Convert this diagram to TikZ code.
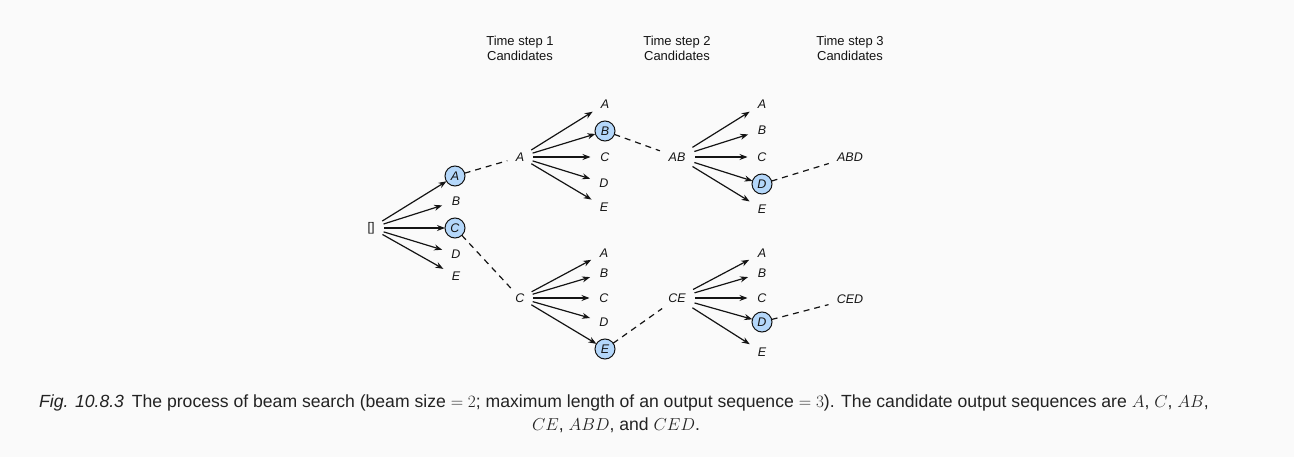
\documentclass[tikz,border=0pt]{standalone}
\usepackage[no-math]{fontspec}
\setmainfont{Liberation Sans}
\usetikzlibrary{arrows.meta}
\definecolor{bg}{RGB}{250,250,250}
\definecolor{sel}{RGB}{180,215,250}
\definecolor{ink}{RGB}{20,20,20}
\definecolor{captink}{RGB}{35,35,35}
\begin{document}
\begin{tikzpicture}[x=1pt,y=-1pt,
  every node/.style={font=\fontsize{12.5}{14}\selectfont\itshape, text=ink},
  tok/.style={circle, inner sep=0pt, minimum size=20pt, outer sep=4.5pt},
  pick/.style={circle, draw=ink, fill=sel, line width=1pt, inner sep=0pt, minimum size=20pt, outer sep=0pt},
  src/.style={circle, inner sep=0pt, minimum size=26pt},
  srcw/.style={circle, inner sep=0pt, minimum size=36pt},
  fin/.style={circle, inner sep=0pt, minimum size=44pt},
  arr/.style={-{Stealth[length=8pt,width=6pt]}, line width=1.2pt, draw=ink},
  dsh/.style={dash pattern=on 6pt off 5pt, line width=1.2pt, draw=ink},
  hdr/.style={font=\fontsize{13}{15.5}\selectfont, align=center},
  capt/.style={font=\fontsize{17.6}{23}\selectfont, text=captink, inner sep=0pt},
]
\path[fill=bg] (0,0) rectangle (1294,457);
\useasboundingbox (0,0) rectangle (1294,457);

% headers
\node[hdr] (h1) at (520,48.5) {Time step 1\\Candidates};
\node[hdr] (h2) at (677,48.5) {Time step 2\\Candidates};
\node[hdr] (h3) at (850,48.5) {Time step 3\\Candidates};

% root
\node[src] (r) at (371,228) {\upshape []};

% level 1
\node[pick] (a1) at (455,176) {A};
\node[tok]  (b1) at (456,201) {B};
\node[pick] (c1) at (455,228) {C};
\node[tok]  (d1) at (456,254) {D};
\node[tok]  (e1) at (456,276) {E};
\foreach \t in {a1,b1,c1,d1,e1} \draw[arr] (r) -- (\t);

% level 2 sources
\node[src] (pA) at (520,157) {A};
\node[src] (pC) at (520,298) {C};
\draw[dsh] (a1) -- (pA);
\draw[dsh] (c1) -- (pC);

% level 2 upper children
\node[tok]  (ua2) at (605,104) {A};
\node[pick] (ub2) at (605,131) {B};
\node[tok]  (uc2) at (605,157) {C};
\node[tok]  (ud2) at (604,183) {D};
\node[tok]  (ue2) at (604,207) {E};
\foreach \t in {ua2,ub2,uc2,ud2,ue2} \draw[arr] (pA) -- (\t);

% level 2 lower children
\node[tok]  (la2) at (604,253) {A};
\node[tok]  (lb2) at (604,273) {B};
\node[tok]  (lc2) at (604,298) {C};
\node[tok]  (ld2) at (604,322) {D};
\node[pick] (le2) at (605,349) {E};
\foreach \t in {la2,lb2,lc2,ld2,le2} \draw[arr] (pC) -- (\t);

% level 3 sources
\node[srcw] (pAB) at (677,157) {AB};
\node[srcw] (pCE) at (677,298) {CE};
\draw[dsh] (ub2) -- (pAB);
\draw[dsh] (le2) -- (pCE);

% level 3 upper children
\node[tok]  (ua3) at (762,104) {A};
\node[tok]  (ub3) at (762,130) {B};
\node[tok]  (uc3) at (762,157) {C};
\node[pick] (ud3) at (762,184) {D};
\node[tok]  (ue3) at (762,209) {E};
\foreach \t in {ua3,ub3,uc3,ud3,ue3} \draw[arr] (pAB) -- (\t);

% level 3 lower children
\node[tok]  (la3) at (762,253) {A};
\node[tok]  (lb3) at (762,273) {B};
\node[tok]  (lc3) at (762,298) {C};
\node[pick] (ld3) at (762,322) {D};
\node[tok]  (le3) at (762,352) {E};
\foreach \t in {la3,lb3,lc3,ld3,le3} \draw[arr] (pCE) -- (\t);

% finals
\node[fin] (pABD) at (850,157) {ABD};
\node[fin] (pCED) at (850,299) {CED};
\draw[dsh] (ud3) -- (pABD);
\draw[dsh] (ld3) -- (pCED);

% caption
\node[capt, anchor=base west] (cap1) at (39,407) {{\itshape Fig. 10.8.3}\hspace{3pt} The process of beam search (beam size $=2$; maximum length of an output sequence $=3$). The candidate output sequences are $A$, $C$, $AB$,};
\node[capt, anchor=base] (cap2) at (616,430) {$CE$, $ABD$, and $CED$.};
\end{tikzpicture}
\end{document}
